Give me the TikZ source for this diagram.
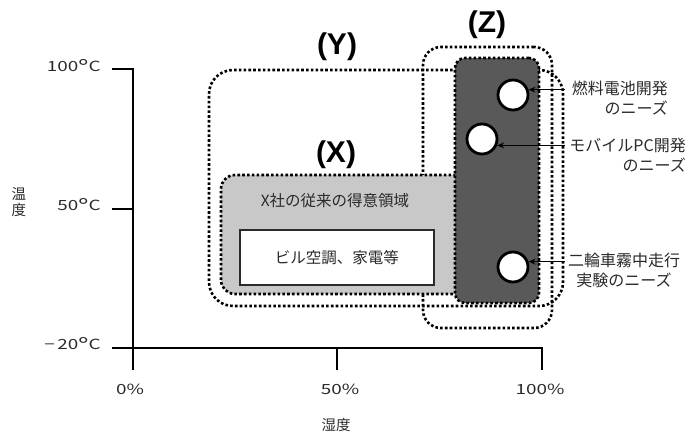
\documentclass[tikz,border=0pt]{standalone}
\usepackage{fontspec}
\setmainfont{Noto Sans CJK JP}
\newfontfamily\numfont[FakeStretch=1.35]{Noto Sans CJK JP}
\newfontfamily\boldlat{Liberation Sans}
\usetikzlibrary{arrows.meta}
\definecolor{lgray}{HTML}{C8C8C8}
\definecolor{dgray}{HTML}{595959}
\definecolor{txt}{HTML}{2A2A2A}
\newcommand{\dgc}{\raisebox{-3.5pt}{\fontsize{21}{21}\selectfont °}C}
\begin{document}
\begin{tikzpicture}[x=1pt,y=-1pt,
  dotline/.style={draw=black, line width=2.6pt, dash pattern=on 2.6pt off 2.2pt},
  region/.style={dotline, anchor=north west, inner sep=0pt, outer sep=0pt},
  axisline/.style={line width=2pt, black},
  lbl/.style={font=\numfont\fontsize{14}{14}\selectfont, text=txt, inner sep=0pt},
  axtitle/.style={font=\normalfont\fontsize{14.5}{16}\selectfont, text=txt, inner sep=0pt, align=center},
  jp/.style={font=\fontsize{16}{20}\selectfont, text=txt, inner sep=0pt},
  big/.style={font=\boldlat\fontsize{30}{30}\selectfont\bfseries, inner sep=0pt},
  need/.style={circle, draw=black, line width=2.8pt, fill=white, minimum size=30pt, inner sep=0pt},
  arr/.style={line width=1.6pt, -{Stealth[length=7pt,width=6pt]}}
]
\useasboundingbox (0,0) rectangle (686,434);

% regions
\node[region, rounded corners=18pt, minimum width=129pt, minimum height=281pt] (zbox) at (423,47) {};
\node[region, rounded corners=24pt, minimum width=354pt, minimum height=236pt] (ybox) at (209,70) {};
\node[region, rounded corners=14pt, fill=lgray, minimum width=249pt, minimum height=119pt] (xbox) at (221,175) {};
\node[draw=txt, line width=1.6pt, fill=white, anchor=north west, inner sep=0pt, minimum width=194pt, minimum height=55pt,
      font=\fontsize{15.5}{15.5}\selectfont, text=txt] (bldg) at (239,229) {ビル空調、家電等};
\node[region, rounded corners=10pt, fill=dgray, minimum width=84pt, minimum height=245pt] (dark) at (455,58) {};

\node[jp, font=\fontsize{15.5}{15.5}\selectfont] (xtitle) at (335,201) {X社の従来の得意領域};

% region labels
\node[big] (ly) at (337,47) {(Y)};
\node[big] (lx) at (336,155) {(X)};
\node[big] (lz) at (487,25) {(Z)};

% needs
\node[need] (c1) at (513,95) {};
\node[need] (c2) at (482,139) {};
\node[need] (c3) at (513,267) {};

\coordinate (rx) at (565,0);
\draw[arr] (c1.19 -| rx) -- (c1.19);
\draw[arr] (c2.-23 -| rx) -- (c2.-23);
\draw[arr] (c3.19 -| rx) -- (c3.19);

\node[jp, align=right, anchor=east] (n1) at (668,98) {燃料電池開発\\のニーズ};
\node[jp, align=right, anchor=east] (n2) at (686,155.5) {モバイルPC開発\\のニーズ};
\node[jp, align=center] (n3) at (624,270) {二輪車霧中走行\\実験のニーズ};

% axes
\coordinate (ytop) at (133,69);
\coordinate (ytick) at (112,69);
\coordinate (ybot) at (133,370);
\coordinate (m50a) at (112,209);
\coordinate (m50b) at (133,209);
\coordinate (xl) at (112,348);
\coordinate (xr) at (542,348);
\coordinate (xrb) at (542,370);
\coordinate (h50a) at (337,348);
\coordinate (h50b) at (337,370);
\draw[axisline] (ytick) -- (ytop) -- (ybot);
\draw[axisline] (m50a) -- (m50b);
\draw[axisline] (xl) -- (xr) -- (xrb);
\draw[axisline] (h50a) -- (h50b);

\node[lbl, anchor=east] (t100) at (101,67) {100\dgc};
\node[lbl, anchor=east] (t50) at (101,206) {50\dgc};
\node[lbl, anchor=east] (tm20) at (101,345) {−\,20\dgc};
\node[lbl] (p0) at (130,389) {0\%};
\node[lbl] (p50) at (340,389) {50\%};
\node[lbl] (p100) at (540,389) {100\%};
\node[axtitle] (yt) at (19,202) {温\\度};
\node[axtitle] (xt) at (336,425) {湿度};
\end{tikzpicture}
\end{document}
